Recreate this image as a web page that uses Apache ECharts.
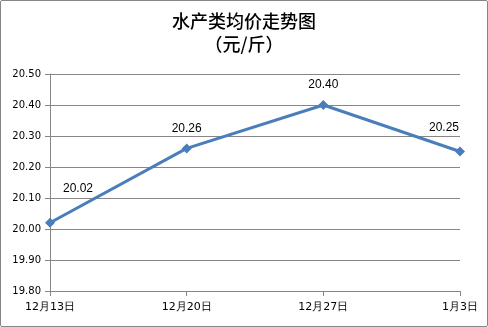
<!DOCTYPE html>
<html><head><meta charset="utf-8">
<script src="https://cdn.jsdelivr.net/npm/echarts@6/dist/echarts.min.js"></script>
<style>html,body{margin:0;padding:0;background:#fff}#c{width:488px;height:327px;box-sizing:border-box;border:1px solid #868686;border-radius:2px}</style>
</head><body><div id="c"></div>
<script>
const titleText = '水产类均价走势图\n（元/斤）';
const categories = ['12月13日', '12月20日', '12月27日', '1月3日'];
const prices = [20.02, 20.26, 20.40, 20.25];
const yMin = 19.8, yMax = 20.5, yStep = 0.1;

const labelOffsets = [[28, -18], [0, -4], [0, -4], [-16, -8]];
const chart = echarts.init(document.getElementById('c'), null, {renderer: 'canvas'});
chart.setOption({
  animation: false,
  title: {
    text: titleText, left: 'center', top: 4,
    textStyle: {fontFamily: 'Noto Sans CJK SC', fontSize: 18, fontWeight: 500, color: '#000', lineHeight: 23}
  },
  grid: {left: 49, right: 27, top: 73, bottom: 35},
  xAxis: {
    type: 'category', data: categories, boundaryGap: false,
    axisLine: {lineStyle: {color: '#868686'}},
    axisTick: {show: true, length: 5, lineStyle: {color: '#868686'}},
    axisLabel: {fontFamily: 'DejaVu Sans', fontSize: 11, color: '#000', margin: 11}
  },
  yAxis: {
    type: 'value', min: yMin, max: yMax, interval: yStep,
    axisLine: {show: true, lineStyle: {color: '#868686'}},
    axisTick: {show: true, length: 5, lineStyle: {color: '#868686'}},
    splitLine: {lineStyle: {color: '#868686'}},
    axisLabel: {fontFamily: 'DejaVu Sans', fontSize: 10, color: '#000', margin: 9,
      formatter: v => v.toFixed(2)}
  },
  series: [{
    type: 'line',
    data: prices.map((v, i) => ({value: v, label: {offset: labelOffsets[i]}})),
    symbol: 'diamond', symbolSize: 10,
    lineStyle: {color: '#4a7ebb', width: 3},
    itemStyle: {color: '#4a7ebb'},
    label: {show: true, position: 'top', distance: 5, fontFamily: 'Liberation Sans', fontSize: 12, color: '#000',
      formatter: p => p.value.toFixed(2)}
  }]
});
</script></body></html>
